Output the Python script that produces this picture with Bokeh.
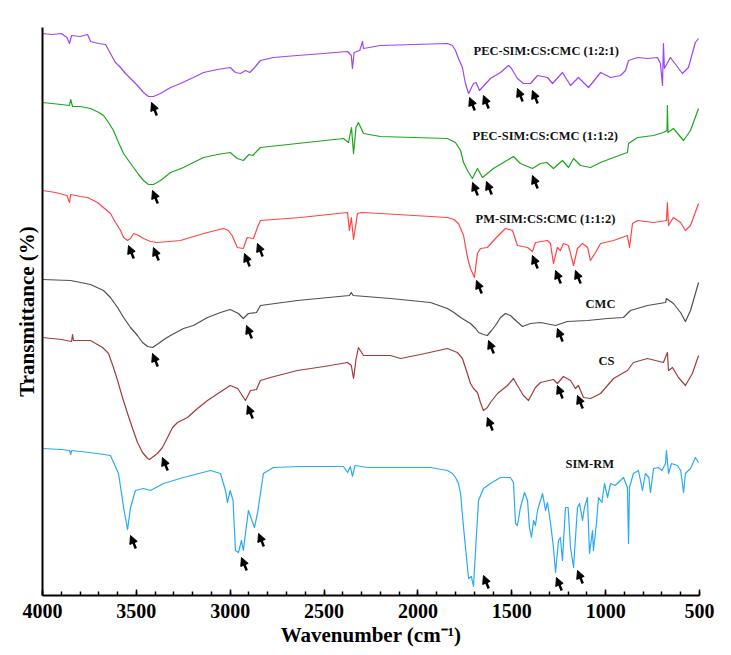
from bokeh.plotting import figure
from bokeh.models import Range1d, FixedTicker, Arrow, NormalHead, ColumnDataSource
from bokeh.core.properties import value
from bokeh.embed import file_html
from bokeh.resources import INLINE

# ---- data: (wavenumber cm^-1, transmittance in arbitrary offset units) ----
pec_121 = [(4000,562),(3950,561),(3900,562),(3870,558),(3856,552),(3845,560),(3800,559),(3760,561),
           (3744,554),(3700,552),(3664,551),(3638,542),(3611,533),(3584,528),(3558,522),(3531,517),
           (3494,510),(3462,503),(3435,499),(3409,499),(3371,502),(3318,508),(3265,512),(3196,518),
           (3142,523),(3068,526),(3000,528),(2972,523),(2945,522),
           (2919,525),(2895,523),(2870,528),(2839,535),(2770,538),(2642,540),(2503,542),(2375,544),
           (2355,540),(2349,527),
           (2340,543),(2310,545),(2295,554),(2290,547),(2200,550),(1843,552),(1816,550),(1800,545),
           (1784,537),(1763,528),
           (1747,512),(1730,502),(1704,512),(1690,513),(1672,505),(1614,517),(1560,523),(1518,530),
           (1505,528),(1470,517),(1438,512),(1400,512),(1363,520),(1310,518),(1283,512),(1230,523),
           (1187,510),(1145,518),(1091,508),(1027,523),(974,518),(921,520),(894,525),(878,535),
           (830,538),(777,537),(724,538),(708,532),(697,510),(692,552),(687,527),(655,538),
           (591,522),(559,528),(522,553),(505,557)]

pec_112 = [(4000,493),(3900,491),(3856,490),(3850,496),(3840,489),(3800,489),(3744,487),(3700,483),
           (3675,480),(3648,473),(3622,465),(3595,453),(3568,442),(3542,435),(3515,428),(3488,421),
           (3462,415),(3435,411),(3409,411),(3371,415),(3318,423),
           (3249,428),(3196,433),(3142,438),(3068,441),(3000,443),(2962,437),(2930,435),(2900,441),
           (2880,440),(2839,448),
           (2642,452),(2397,457),(2370,453),(2354,468),(2343,442),(2330,468),(2317,473),(2290,462),
           (2200,459),(1843,457),(1800,453),(1773,445),(1757,433),(1736,425),(1710,417),(1683,427),
           (1656,418),(1598,427),
           (1544,433),(1491,439),(1454,432),(1390,427),(1347,432),(1313,433),(1278,427),(1230,435),
           (1198,428),(1171,437),(1134,430),(1081,428),(1027,433),(958,438),(884,443),(878,452),
           (830,458),(745,460),(692,463),(673,465),(671,490),(668,463),(639,467),(585,455),
           (548,465),(505,487)]

pm_112 = [(4000,405),(3930,403),(3870,400),(3856,393),(3850,401),(3800,399),(3760,398),(3707,393),
          (3638,382),(3611,373),(3584,365),(3568,358),(3547,355),(3531,357),(3515,362),(3488,360),
          (3462,357),(3425,354),(3388,353),(3265,355),(3142,362),
          (3036,367),(3010,365),(2990,360),(2962,348),(2930,347),(2910,358),(2876,357),(2855,368),
          (2839,375),(2626,378),(2375,383),(2365,365),(2355,378),(2343,356),(2322,382),(2300,383),
          (2200,382),(1843,378),(1808,376),(1784,372),(1768,365),(1757,360),(1736,338),(1720,327),
          (1699,318),(1683,342),
          (1667,347),(1630,348),(1587,357),(1534,367),(1496,365),(1470,350),(1416,348),(1390,344),
          (1374,353),(1310,355),(1294,352),(1278,332),(1257,348),(1241,345),(1225,352),(1198,350),
          (1171,330),(1150,347),(1123,352),(1096,348),(1081,335),(1054,343),(1027,352),(958,355),
          (884,360),(873,348),(857,372),(830,375),(745,373),(676,375),(671,393),(665,370),
          (639,378),(601,373),(575,365),(548,370),(505,392)]

cmc = [(4000,316),(3850,315),(3744,311),(3675,305),(3638,298),(3600,288),(3568,278),(3531,268),
       (3494,260),(3467,253),(3440,249),(3414,248),(3382,252),(3345,257),(3318,260),(3249,267),
       (3196,270),(3121,278),(3052,283),(3000,286),(2956,282),(2930,277),(2903,282),
       (2860,283),(2839,290),(2642,295),(2365,300),(2355,303),(2345,300),(2146,297),(1933,293),
       (1843,287),(1808,283),(1773,278),(1747,275),(1720,272),(1693,267),(1677,263),(1651,261),
       (1630,260),(1608,265),(1587,270),(1560,278),(1534,282),(1507,280),(1491,277),
       (1443,269),(1400,272),(1347,273),(1267,270),(1204,274),(1097,275),(990,277),(905,278),
       (868,285),(777,290),(681,293),(676,297),(639,292),(601,283),(575,274),(548,285),(505,313)]

cs = [(4000,258),(3900,256),(3845,254),(3840,261),(3835,255),(3744,255),(3680,248),(3648,242),
      (3622,228),(3600,215),(3574,198),(3547,182),(3520,167),(3494,153),(3467,143),(3440,137),
      (3430,136),(3388,142),(3361,148),(3334,158),(3307,168),(3281,173),
      (3228,178),(3174,187),(3121,195),(3057,203),(3000,210),(2960,207),(2919,195),(2892,205),
      (2860,206),(2839,215),(2786,218),
      (2642,225),(2500,229),(2375,233),(2355,230),(2343,217),(2330,236),(2317,248),(2290,240),
      (2146,240),(2093,237),(1986,241),(1843,247),(1790,243),(1763,237),(1747,228),(1720,212),
      (1704,207),(1683,203),(1667,193),(1651,185),(1630,188),
      (1614,193),(1576,202),(1523,210),(1491,217),(1470,210),(1438,200),(1411,195),(1374,208),
      (1347,213),(1278,216),(1257,212),(1225,219),(1187,215),(1161,207),(1145,210),(1118,198),
      (1081,197),(1027,202),(958,217),(884,225),(852,233),(777,237),(692,233),(671,243),
      (665,225),(644,228),(612,218),(575,210),(538,222),(505,240)]

sim_rm = [(4000,147),(3900,146),(3856,145),(3850,141),(3845,145),(3707,142),(3638,140),(3595,122),
          (3568,88),(3547,66),(3531,88),(3505,105),(3462,107),(3425,105),(3355,112),(3249,118),
          (3105,125),(3052,122),(3025,105),(3015,93),(3000,105),(2985,95),(2972,45),(2956,43),
          (2940,55),(2930,45),(2903,85),(2871,68),(2855,82),(2823,122),(2770,128),(2626,129),
          (2397,129),(2375,123),(2360,129),(2349,119),(2335,130),(2269,128),(1933,128),(1843,125),
          (1816,122),(1800,118),(1784,112),(1773,102),(1757,68),(1736,28),(1730,17),(1715,19),
          (1704,9),(1690,55),
          (1677,95),(1651,107),(1614,112),(1560,118),(1507,118),(1491,113),(1480,72),(1470,70),
          (1454,88),(1432,103),(1416,95),(1406,68),(1395,58),(1384,75),(1374,70),(1363,85),
          (1336,102),(1320,85),(1310,93),(1294,73),(1278,48),(1267,23),(1251,55),(1241,58),
          (1230,35),(1214,88),(1200,88),(1187,48),(1171,28),(1150,88),(1139,92),(1123,75),
          (1113,88),(1097,98),(1086,42),(1070,65),(1065,45),(1049,72),(1038,98),(1020,93),
          (1006,112),(990,98),(974,112),(950,110),(932,113),(905,118),(884,108),(878,52),
          (873,108),(852,122),(825,125),(804,105),(788,122),(770,118),(761,103),(745,127),
          (720,128),(700,125),(681,132),(676,145),(665,122),(649,132),(617,130),(600,125),
          (585,103),(575,122),(548,127),(522,138),(505,133)]

series_names = ["PEC-SIM:CS:CMC (1:2:1)", "PEC-SIM:CS:CMC (1:1:2)", "PM-SIM:CS:CMC (1:1:2)",
                "CMC", "CS", "SIM-RM"]
series_data = [pec_121, pec_112, pm_112, cmc, cs, sim_rm]
series_colors = ["#9b45f5", "#1ea51e", "#ff4545", "#4f4f4f", "#a03c3c", "#2aaaf0"]

# label anchor positions (wavenumber, transmittance units)
label_wn = [1704, 1709, 1693, 1107, 1038, 1214]
label_t = [545, 460, 377, 292, 235, 132]

# arrow heads marking characteristic bands
arrow_wn = [3419, 1725, 1651, 1470, 1390,
            3414, 1709, 1635, 1390,
            3542, 3409, 2924, 2855, 1688, 1390, 1267, 1161,
            3414, 2913, 1624, 1257,
            3361, 2908, 1630, 1257, 1150,
            3531, 2940, 2849, 1651, 1262, 1150]
arrow_t = [493, 498, 500, 507, 505,
           405, 413, 414, 420,
           350, 348, 342, 352, 315, 340, 325, 325,
           242, 270, 255, 267,
           138, 190, 178, 210, 200,
           60, 38, 62, 20, 18, 25]

x_ticks = [4000, 3500, 3000, 2500, 2000, 1500, 1000, 500]
x_minor = list(range(500, 4001, 100))

SERIF = "Liberation Serif"

p = figure(frame_width=657, frame_height=568, output_backend="svg", toolbar_location=None,
           x_range=Range1d(4000, 500), y_range=Range1d(0, 568),
           min_border_left=42, min_border_top=27, min_border_right=24, min_border_bottom=4,
           background_fill_color="white", border_fill_color="white")
p.outline_line_color = None
p.grid.visible = False

for data, col in zip(series_data, series_colors):
    xs = [d[0] for d in data]
    ys = [d[1] for d in data]
    p.line(xs, ys, line_color=col, line_width=1.2, line_join="round")

p.text(x=label_wn, y=label_t, text=series_names, text_font=value(SERIF),
       text_font_style="bold", text_font_size="12.5px", text_color="#111111",
       text_align="left", text_baseline="middle")

tail_dx, tail_dy = 28, 13
asrc = ColumnDataSource(dict(x_end=arrow_wn, y_end=arrow_t,
                             x_start=[w - tail_dx for w in arrow_wn],
                             y_start=[t - tail_dy for t in arrow_t]))
p.add_layout(Arrow(source=asrc, x_start="x_start", y_start="y_start", x_end="x_end", y_end="y_end",
                   line_width=2.5, line_color="black",
                   end=NormalHead(size=8, fill_color="black", line_color="black", line_width=1)))

xa = p.xaxis[0]
xa.ticker = FixedTicker(ticks=x_ticks, minor_ticks=x_minor)
xa.axis_label = "Wavenumber (cm\u207b\u00b9)"
xa.axis_label_text_font = SERIF
xa.axis_label_text_font_style = "bold"
xa.axis_label_text_font_size = "21px"
xa.axis_label_text_color = "black"
xa.axis_label_standoff = 2
xa.major_label_text_font = SERIF
xa.major_label_text_font_style = "bold"
xa.major_label_text_font_size = "20px"
xa.major_label_text_color = "black"
xa.major_label_standoff = 8
xa.axis_line_width = 2
xa.major_tick_in = 6
xa.major_tick_out = 0
xa.minor_tick_in = 4
xa.minor_tick_out = 0
xa.major_tick_line_width = 1.5
xa.minor_tick_line_width = 1.5

ya = p.yaxis[0]
ya.ticker = FixedTicker(ticks=[])
ya.axis_label = "Transmittance (%)"
ya.axis_label_text_font = SERIF
ya.axis_label_text_font_style = "bold"
ya.axis_label_text_font_size = "21px"
ya.axis_label_text_color = "black"
ya.axis_label_standoff = 4
ya.major_label_standoff = 0
ya.major_tick_in = 0
ya.major_tick_out = 0
ya.minor_tick_in = 0
ya.minor_tick_out = 0
ya.axis_line_width = 2

open("out.html", "w").write(file_html(p, INLINE))
